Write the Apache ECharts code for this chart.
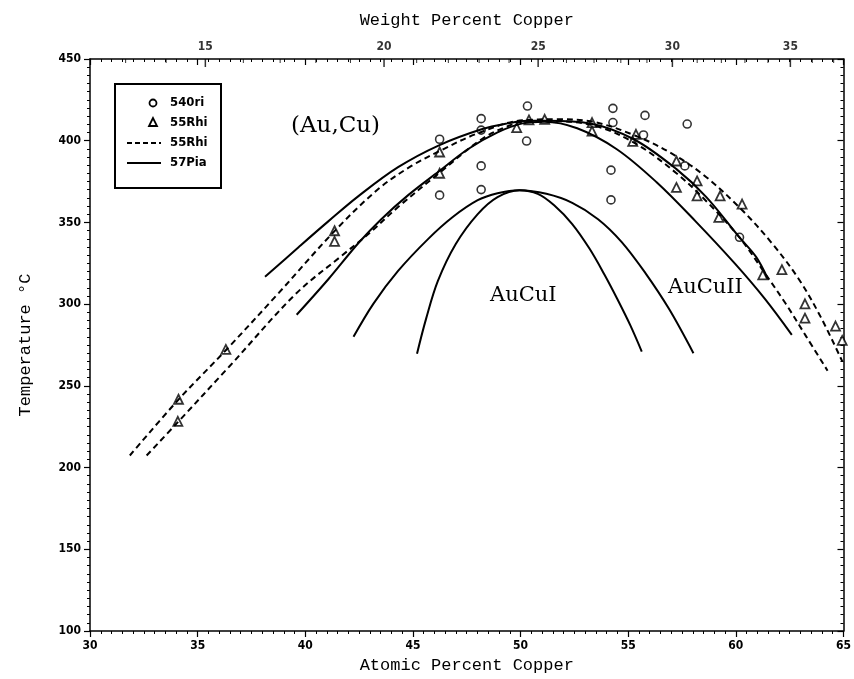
<!DOCTYPE html>
<html>
<head>
<meta charset="utf-8">
<script src="https://cdn.jsdelivr.net/npm/echarts@6/dist/echarts.min.js"></script>
<style>
html, body { margin: 0; padding: 0; background: #fff; }
#chart { width: 854px; height: 679px; }
</style>
</head>
<body>
<div id="chart"></div>
<script>
// measured points, [atomic % Cu, temperature C]
var ori540 = [
    [46.24, 400.9], [46.24, 366.7], [48.17, 413.5], [48.17, 406.5], [48.17, 384.6], [48.17, 370.1],
    [50.32, 421.2], [50.28, 399.8], [54.29, 419.8], [54.29, 411.1], [54.2, 382], [54.2, 363.8],
    [55.78, 415.5], [55.71, 403.5], [57.74, 410.2], [57.63, 384.6], [60.17, 340.9]
];
var rhi55Pts = [
    [34.11, 241.8], [34.08, 228.3], [36.31, 272.3], [41.36, 344.9], [41.36, 338.4], [46.24, 393.1],
    [46.24, 380.1], [49.82, 408], [50.39, 412.7], [51.12, 413.1], [53.32, 411.1], [53.32, 405.9],
    [55.36, 403.9], [55.21, 399.6], [57.24, 387.6], [57.24, 371.4], [58.2, 375.4], [58.2, 366.3],
    [59.27, 366.3], [59.21, 353.1], [60.29, 361.2], [61.25, 317.9], [62.14, 321.1], [63.21, 300.2],
    [63.21, 291.4], [64.63, 286.6], [64.94, 277.8]
];

// 55Rhi boundaries (dashed)
var rhiOuter = [
    [31.85, 207.4], [34.11, 241.6], [36.33, 272.1], [38.77, 306.9], [41.36, 344.7], [43.39, 370.4],
    [44.91, 384.4], [46.21, 393.5], [48.01, 404.5], [50.09, 412.5], [51.7, 413.1], [53.23, 411.9],
    [55.4, 402.7], [57.24, 390.5], [58.63, 377.7], [60.24, 358.2], [61.63, 338], [62.92, 315.4],
    [63.94, 292.2], [64.95, 264.8]
];
var rhiInner = [
    [32.63, 207.4], [34.06, 227.5], [36.46, 261.7], [39.56, 306.3], [41.68, 329.5], [42.93, 342.9],
    [44.31, 359.4], [46.21, 380.1], [48.19, 400.9], [49.39, 408.8], [50.32, 411.9], [51.7, 411.9],
    [53.55, 408.8], [55.4, 397.8], [57.24, 380.1], [58.63, 363], [60.15, 341.1], [61.4, 317.9],
    [62.32, 300.2], [63.25, 280.6], [64.26, 259.3]
];

// 57Pia boundaries (solid)
var piaOuter = [
    [38.13, 316.7], [39.7, 335], [41.08, 350.8], [42.47, 366.1], [44.31, 383.8], [46.21, 397.2],
    [48.19, 407], [49.39, 410.6], [50.32, 412.2], [51.24, 412.2], [53.23, 410.6], [55.26, 400.9],
    [57.24, 382.6], [58.63, 365.5], [60.15, 341.1], [60.94, 328.9], [61.49, 315.4]
];
var piaInner = [
    [39.6, 293.5], [41.08, 315.4], [42.47, 337.4], [43.53, 352], [44.78, 366.7], [46.21, 381.3],
    [47.55, 394.8], [48.93, 405.1], [50.09, 410.6], [51.1, 411.6], [52.63, 407.6], [54.47, 394.8],
    [56.32, 374.6], [58.12, 350.8], [59.97, 324.6], [61.35, 303.2], [62.6, 281.2]
];
var auCuIIWide = [
    [42.24, 280], [43.16, 300.2], [44.31, 320.3], [45.7, 339.8], [46.85, 353.3], [48.01, 363.6],
    [48.93, 367.9], [49.95, 369.7], [51.2, 367.5], [52.4, 362], [53.6, 352], [54.7, 338],
    [55.8, 319], [56.9, 297], [58.03, 270]
];
var auCuINarrow = [
    [45.19, 269.7], [45.61, 291], [46.16, 314.2], [46.99, 336.8], [48.01, 355.1], [48.93, 365.5],
    [49.95, 369.7], [50.8, 367.5], [51.56, 360.5], [52.4, 349], [53.2, 334], [53.9, 318],
    [54.5, 303], [55.1, 287], [55.63, 271]
];

// top axis: weight percent copper
var wtLabels = [15, 20, 25, 30, 35];
var wtMinor = [13, 14, 16, 17, 18, 19, 21, 22, 23, 24, 26, 27, 28, 29, 31, 32, 33, 34, 36, 37];

function wtToAt(w) {
    var cu = w / 63.546, au = (100 - w) / 196.967;
    return cu / (cu + au) * 100;
}

var tickFont = { fontFamily: '"DejaVu Sans Condensed", "DejaVu Sans"', fontWeight: 'bold', fontSize: 12, color: '#000' };
var titleFont = { fontFamily: '"Liberation Mono", "DejaVu Sans Mono"', fontSize: 17, color: '#000' };
var phaseFont = '21px "DejaVu Serif"';
var legendFont = 'bold 13px "DejaVu Sans Condensed", "DejaVu Sans"';

var chart = echarts.init(document.getElementById('chart'));

function lineSeries(name, data, dashed) {
    return {
        name: name, type: 'line', data: data, smooth: 0.35,
        showSymbol: false, silent: true,
        lineStyle: { color: '#000', width: 2, type: dashed ? [6, 4] : 'solid' }
    };
}

var axisLine = { show: true, lineStyle: { color: '#000', width: 1.5 } };

var option = {
    animation: false,
    backgroundColor: '#fff',
    grid: { left: 90, right: 5, top: 59, bottom: 47 },
    xAxis: [{
        type: 'value', position: 'bottom', min: 30, max: 65, interval: 5,
        name: 'Atomic Percent Copper', nameLocation: 'middle', nameGap: 26, nameTextStyle: titleFont,
        axisLine: axisLine,
        axisTick: { inside: false, length: 6, lineStyle: { color: '#000', width: 1.2 } },
        minorTick: { show: true, splitNumber: 10, length: 3, lineStyle: { color: '#000' } },
        axisLabel: Object.assign({ margin: 9 }, tickFont),
        splitLine: { show: false }
    }, {
        type: 'value', position: 'top', min: 30, max: 65, interval: 5,
        name: 'Weight Percent Copper', nameLocation: 'middle', nameGap: 30, nameTextStyle: titleFont,
        axisLine: axisLine,
        axisTick: { inside: true, length: 6, lineStyle: { color: '#000', width: 1.2 } },
        minorTick: { show: true, splitNumber: 10, length: 3, lineStyle: { color: '#000' } },
        axisLabel: { show: false },
        splitLine: { show: false }
    }],
    yAxis: [{
        type: 'value', position: 'left', min: 100, max: 450, interval: 50,
        name: 'Temperature °C', nameLocation: 'middle', nameGap: 56, nameTextStyle: titleFont,
        axisLine: axisLine,
        axisTick: { inside: false, length: 6, lineStyle: { color: '#000', width: 1.2 } },
        minorTick: { show: true, splitNumber: 10, length: 3, lineStyle: { color: '#000' } },
        axisLabel: Object.assign({ margin: 9 }, tickFont),
        splitLine: { show: false }
    }, {
        type: 'value', position: 'right', min: 100, max: 450, interval: 50,
        axisLine: axisLine,
        axisTick: { inside: true, length: 6, lineStyle: { color: '#000', width: 1.2 } },
        minorTick: { show: true, splitNumber: 10, length: 3, lineStyle: { color: '#000' } },
        axisLabel: { show: false },
        splitLine: { show: false }
    }],
    series: [
        lineSeries('55Rhi outer', rhiOuter, true),
        lineSeries('55Rhi inner', rhiInner, true),
        lineSeries('57Pia outer', piaOuter, false),
        lineSeries('57Pia inner', piaInner, false),
        lineSeries('AuCuII boundary', auCuIIWide, false),
        lineSeries('AuCuI boundary', auCuINarrow, false),
        {
            name: '540ri', type: 'scatter', data: ori540, symbol: 'circle', symbolSize: 8, clip: false,
            itemStyle: { color: '#fff', borderColor: '#000', borderWidth: 1.6 }
        },
        {
            name: '55Rhi', type: 'scatter', data: rhi55Pts, symbol: 'triangle', symbolSize: 9, clip: false,
            itemStyle: { color: '#fff', borderColor: '#000', borderWidth: 1.8 }
        },
        {
            name: 'wt major', type: 'scatter', xAxisIndex: 1, clip: false, silent: true,
            data: wtLabels.map(function (w) { return [wtToAt(w), 450, w]; }),
            symbol: 'rect', symbolSize: [1.5, 8], symbolOffset: [0, 4],
            itemStyle: { color: '#000' },
            label: { show: true, position: 'top', distance: 6, formatter: function (p) { return p.data[2]; },
                fontFamily: tickFont.fontFamily, fontWeight: 'bold', fontSize: 12, color: '#000' }
        },
        {
            name: 'wt minor', type: 'scatter', xAxisIndex: 1, clip: false, silent: true,
            data: wtMinor.map(function (w) { return [wtToAt(w), 450]; }),
            symbol: 'rect', symbolSize: [1, 4], symbolOffset: [0, 2],
            itemStyle: { color: '#000' }
        }
    ],
    graphic: [
        { type: 'text', left: 291, top: 115, style: { text: '(Au,Cu)', font: '23px "DejaVu Serif"', fill: '#000' } },
        { type: 'text', left: 490, top: 285, style: { text: 'AuCuI', font: phaseFont, fill: '#000' } },
        { type: 'text', left: 668, top: 277, style: { text: 'AuCuII', font: phaseFont, fill: '#000' } },
        {
            type: 'group', left: 114, top: 83,
            children: [
                { type: 'rect', shape: { x: 0, y: 0, width: 106, height: 104 }, style: { fill: '#fff', stroke: '#000', lineWidth: 2 } },
                { type: 'circle', shape: { cx: 38, cy: 19, r: 3.5 }, style: { fill: '#fff', stroke: '#000', lineWidth: 1.8 } },
                { type: 'polygon', shape: { points: [[38, 34], [34, 42], [42, 42]] }, style: { fill: '#fff', stroke: '#000', lineWidth: 1.8 } },
                { type: 'line', shape: { x1: 12, y1: 59, x2: 46, y2: 59 }, style: { stroke: '#000', lineWidth: 2, lineDash: [5, 3] } },
                { type: 'line', shape: { x1: 12, y1: 79, x2: 46, y2: 79 }, style: { stroke: '#000', lineWidth: 2 } },
                { type: 'text', x: 55, y: 19, style: { text: '540ri', font: legendFont, fill: '#000', verticalAlign: 'middle' } },
                { type: 'text', x: 55, y: 39, style: { text: '55Rhi', font: legendFont, fill: '#000', verticalAlign: 'middle' } },
                { type: 'text', x: 55, y: 59, style: { text: '55Rhi', font: legendFont, fill: '#000', verticalAlign: 'middle' } },
                { type: 'text', x: 55, y: 79, style: { text: '57Pia', font: legendFont, fill: '#000', verticalAlign: 'middle' } }
            ]
        }
    ]
};

chart.setOption(option);
</script>
</body>
</html>
